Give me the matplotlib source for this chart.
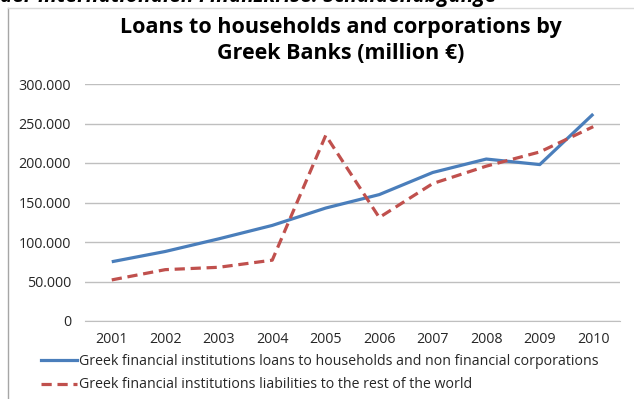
import matplotlib
matplotlib.use("Agg")
import matplotlib.pyplot as plt
from matplotlib.lines import Line2D

years = ["2001", "2002", "2003", "2004", "2005", "2006", "2007", "2008", "2009", "2010"]
loans = [75000, 88000, 104000, 121000, 143000, 160000, 188000, 205000, 198000, 262000]
liabilities = [52000, 65000, 68000, 77000, 235000, 131000, 174000, 196000, 214000, 246000]
yticks = [0, 50000, 100000, 150000, 200000, 250000, 300000]
ytick_labels = ["0", "50.000", "100.000", "150.000", "200.000", "250.000", "300.000"]
series_labels = [
    "Greek financial institutions loans to households and non financial corporations",
    "Greek financial institutions liabilities to the rest of the world",
]
title = "Loans to households and corporations by\nGreek Banks (million €)"

W, H = 634, 399
fig = plt.figure(figsize=(W / 100, H / 100), dpi=100)
fig.patch.set_facecolor("white")

# outer chart frame (top and left edges visible)
fig.add_artist(Line2D([8 / W, 8 / W], [0, 1 - 8 / H], color="#a6a6a6", lw=1.0))
fig.add_artist(Line2D([8 / W, 1], [1 - 8 / H, 1 - 8 / H], color="#d9d9d9", lw=1.0))

# cut-off text from the page above
fig.text(0.0, 1 - 2 / H, "der internationalen Finanzkrise: Schuldenabgänge",
         fontsize=15, fontweight="bold", style="italic", family="Open Sans",
         ha="left", va="baseline", color="black")

left, right = 85 / W, 620 / W
bottom, top = 1 - 321 / H, 1 - 84 / H
ax = fig.add_axes([left, bottom, right - left, top - bottom])
x = list(range(len(years)))
ax.plot(x, loans, color="#4a7ebb", lw=2.3, solid_capstyle="butt")
ax.plot(x, liabilities, color="#c0504d", lw=2.3, dashes=(3.2, 1.8))
ax.set_xlim(-0.5, len(years) - 0.5)
ax.set_ylim(0, 300000)
ax.set_yticks(yticks)
ax.set_yticklabels(ytick_labels)
ax.set_xticks(x)
ax.set_xticklabels(years)
ax.grid(axis="y", color="#bfbfbf", lw=1.0)
ax.set_axisbelow(True)
for s in ["top", "right", "left"]:
    ax.spines[s].set_visible(False)
ax.spines["bottom"].set_color("#bfbfbf")
ax.tick_params(axis="both", length=0, labelsize=10.3, colors="#262626")
ax.tick_params(axis="y", pad=10)
ax.tick_params(axis="x", pad=8)
for lab in ax.get_xticklabels() + ax.get_yticklabels():
    lab.set_family("Open Sans")

fig.text(341 / W, 1 - 17 / H, title, ha="center", va="top",
         fontsize=15.5, fontweight="bold", family="Open Sans", linespacing=1.3)

# legend
h1 = Line2D([], [], color="#4a7ebb", lw=2.3)
h2 = Line2D([], [], color="#c0504d", lw=2.3, dashes=(3.2, 1.8))
leg = fig.legend([h1, h2], series_labels, loc="upper left",
                 bbox_to_anchor=(41 / W, 1 - 354 / H), frameon=False,
                 prop={"family": "Open Sans", "size": 10.2}, handlelength=2.55,
                 handletextpad=0.1, labelspacing=0.6, borderaxespad=0, borderpad=0)
for t in leg.get_texts():
    t.set_color("#262626")

fig.savefig("out.png", dpi=100)
